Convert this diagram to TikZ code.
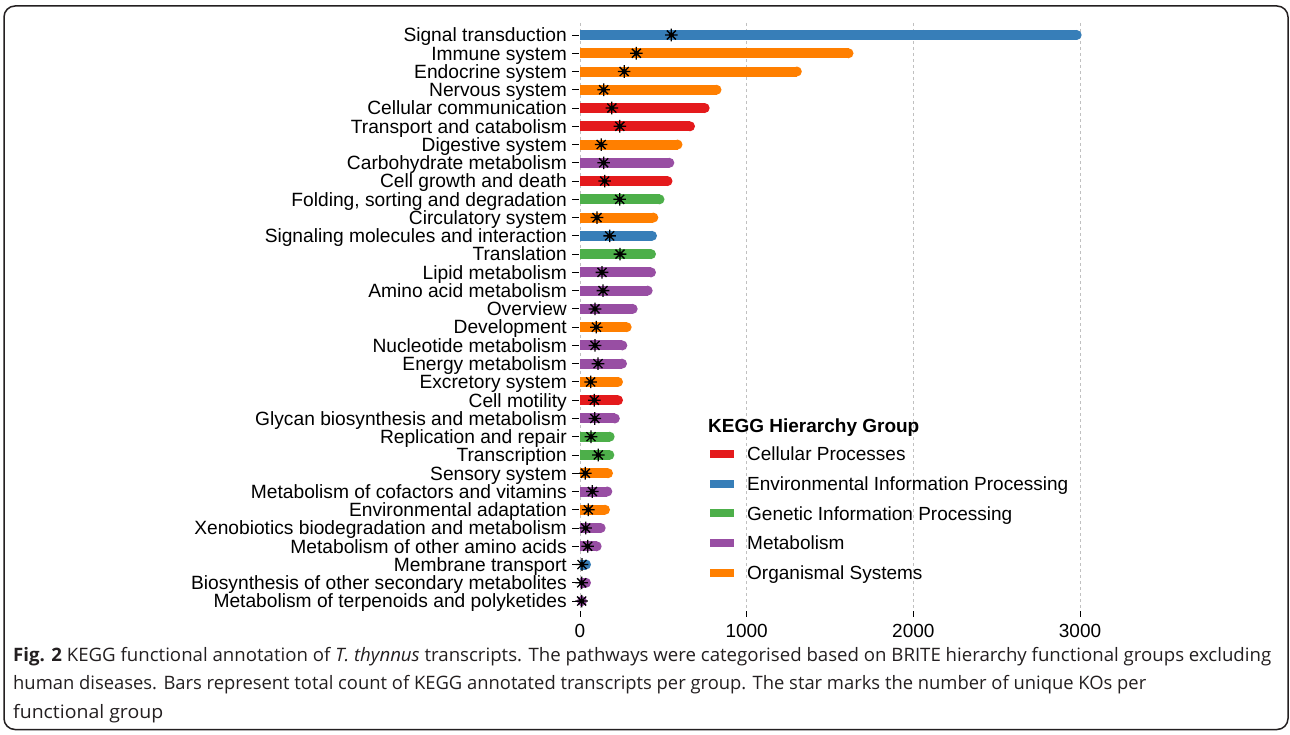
\documentclass[tikz,border=0pt]{standalone}
\usepackage{fontspec}
\setmainfont{Liberation Sans}
\newfontfamily\capfont{Open Sans}
\usepackage{graphicx}
\definecolor{cRed}{HTML}{E41A1C}
\definecolor{cBlue}{HTML}{377EB8}
\definecolor{cGreen}{HTML}{4DAF4A}
\definecolor{cPurple}{HTML}{984EA3}
\definecolor{cOrange}{HTML}{FF7F00}
\definecolor{gridgray}{HTML}{C0C0C0}
\definecolor{frameink}{HTML}{231F20}
\begin{document}
\begin{tikzpicture}[x=1pt,y=-1pt,
  lab/.style={anchor=base east,inner sep=0pt,font=\fontsize{19.2}{19.2}\selectfont},
  ticklab/.style={anchor=base,inner sep=0pt,font=\fontsize{19}{19}\selectfont},
  legtext/.style={anchor=base west,inner sep=0pt,font=\fontsize{19}{19}\selectfont},
  gridline/.style={draw=gridgray,dashed,line width=0.8pt},
  tickline/.style={draw=black,line width=0.9pt},
  capline/.style={anchor=base west,inner sep=0pt,text=frameink,font=\capfont\fontsize{18.5}{18.5}\selectfont},
  kstar/.pic={\draw[line width=1.3pt] (-6.3,0)--(6.3,0) (0,-6.3)--(0,6.3) (-4.5,-4.5)--(4.5,4.5) (-4.5,4.5)--(4.5,-4.5); \fill (0,0) circle (2.5);}
]
\useasboundingbox (0,0) rectangle (1290,735);
\fill[white] (0,0) rectangle (1290,735);
\draw[frameink,line width=1.5pt,rounded corners=11pt] (4,6) rectangle (1288,729.5);

% grid and x ticks
\foreach \v/\t in {0/0,1000/1000,2000/2000,3000/3000}{
  \draw[gridline] ({580+\v/6},23) -- ({580+\v/6},611);
  \draw[tickline] ({580+\v/6},611) -- ({580+\v/6},617);
  \node[ticklab] (xt\v) at ({580+\v/6},637) {\t};
}

% bars
\foreach \n/\e/\s/\c [count=\i] in {
  Signal transduction/3010/548/cBlue,
  Immune system/1641/338/cOrange,
  Endocrine system/1331/265/cOrange,
  Nervous system/849/142/cOrange,
  Cellular communication/778/191/cRed,
  Transport and catabolism/690/239/cRed,
  Digestive system/615/127/cOrange,
  Carbohydrate metabolism/566/142/cPurple,
  Cell growth and death/555/148/cRed,
  {Folding, sorting and degradation}/507/238/cGreen,
  Circulatory system/470/102/cOrange,
  Signaling molecules and interaction/462/178/cBlue,
  Translation/456/240/cGreen,
  Lipid metabolism/456/132/cPurple,
  Amino acid metabolism/436/138/cPurple,
  Overview/346/90/cPurple,
  Development/310/98/cOrange,
  Nucleotide metabolism/284/90/cPurple,
  Energy metabolism/282/108/cPurple,
  Excretory system/258/64/cOrange,
  Cell motility/258/86/cRed,
  Glycan biosynthesis and metabolism/239/89/cPurple,
  Replication and repair/208/66/cGreen,
  Transcription/206/110/cGreen,
  Sensory system/198/32/cOrange,
  Metabolism of cofactors and vitamins/194/74/cPurple,
  Environmental adaptation/180/50/cOrange,
  Xenobiotics biodegradation and metabolism/154/34/cPurple,
  Metabolism of other amino acids/130/46/cPurple,
  Membrane transport/66/12/cBlue,
  Biosynthesis of other secondary metabolites/66/10/cPurple,
  Metabolism of terpenoids and polyketides/42/10/cPurple}{
  \pgfmathsetmacro{\yy}{35+(\i-1)*18.26}
  \pgfmathsetmacro{\xe}{580+\e/6-5}
  \fill[\c] (580,\yy-5) rectangle (\xe,\yy+5);
  \fill[\c] (\xe,\yy) circle (5);
  \draw[tickline] (572,\yy) -- (579,\yy);
  \node[lab] (lab\i) at (567,\yy+6.8) {\n};
  \pic at ({580+\s/6},\yy) {kstar};
}

% legend
\node[anchor=base west,inner sep=0pt,font=\fontsize{19}{19}\selectfont\bfseries] (legtitle) at (708,432) {KEGG Hierarchy Group};
\foreach \t/\c [count=\j] in {Cellular Processes/cRed,Environmental Information Processing/cBlue,Genetic Information Processing/cGreen,Metabolism/cPurple,Organismal Systems/cOrange}{
  \pgfmathsetmacro{\ly}{454+(\j-1)*29.7}
  \fill[\c] (710,\ly-4) rectangle (734,\ly+4);
  \node[legtext] (leg\j) at (747,\ly+6.8) {\t};
}

% caption
\node[capline] (cap1) at (13,661) {\resizebox{1258pt}{\height}{\textbf{Fig. 2} KEGG functional annotation of \textit{T. thynnus} transcripts. The pathways were categorised based on BRITE hierarchy functional groups excluding}};
\node[capline] (cap2) at (13,689.5) {\resizebox{1133pt}{\height}{human diseases. Bars represent total count of KEGG annotated transcripts per group. The star marks the number of unique KOs per}};
\node[capline] (cap3) at (13,718) {\resizebox{150pt}{\height}{functional group}};
\end{tikzpicture}
\end{document}
